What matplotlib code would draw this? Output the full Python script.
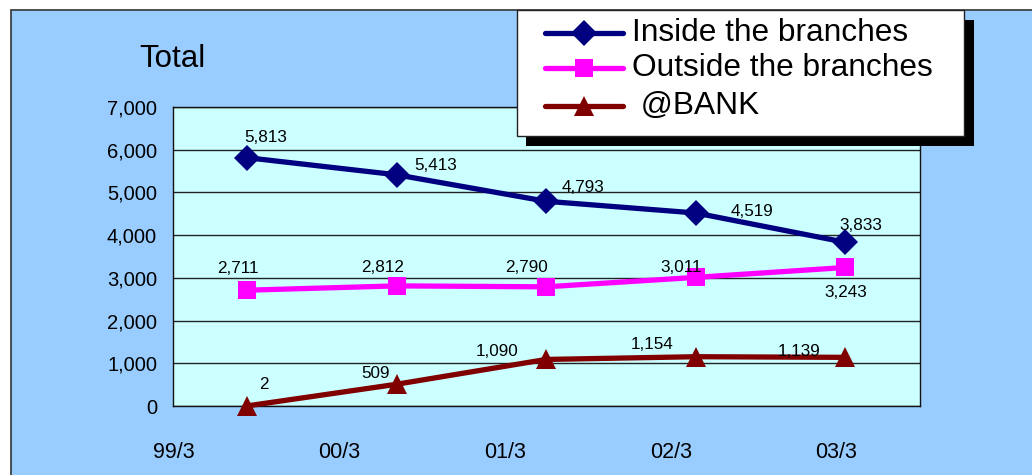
import matplotlib
matplotlib.use("Agg")
import matplotlib.pyplot as plt
from matplotlib.patches import Rectangle
from matplotlib.lines import Line2D
from matplotlib.ticker import FuncFormatter, MultipleLocator

plt.rcParams['font.family'] = ['Liberation Sans', 'DejaVu Sans']

# ---- data ----
periods = ["99/3", "00/3", "01/3", "02/3", "03/3"]
series_names = ["Inside the branches", "Outside the branches", " @BANK"]
inside = [5813, 5413, 4793, 4519, 3833]
outside = [2711, 2812, 2790, 3011, 3243]
bank = [2, 509, 1090, 1154, 1139]

# label offsets (pixels, right / up) for each value label
inside_off = [(19, 20), (39, 9), (37, 14), (56, 1), (16, 17)]
outside_off = [(-9, 22), (-14, 18), (-20, 19), (-15, 10), (1, -25)]
bank_off = [(17, 21), (-21, 11), (-49, 8), (-44, 12), (-46, 6)]

W, H = 1032, 475
fig = plt.figure(figsize=(W / 100, H / 100), dpi=100)
fig.patch.set_facecolor('white')


def fx(x):
    return x / W


def fy(y):
    return 1 - y / H


# outer blue panel
fig.add_artist(Rectangle((fx(11), fy(480)), fx(1040 - 11), (480 - 10) / H,
                         transform=fig.transFigure, facecolor='#99CCFF',
                         edgecolor='#333333', linewidth=1.2, zorder=0))

ax = fig.add_axes([fx(173), fy(406), fx(920 - 173), (406 - 107) / H])
ax.set_facecolor('#CCFFFF')
x = list(range(len(periods)))

styles = [
    (inside, '#000080', 'D', 13, inside_off),
    (outside, '#FF00FF', 's', 13, outside_off),
    (bank, '#800000', '^', 14.5, bank_off),
]
for vals, col, mk, ms, offs in styles:
    ax.plot(x, vals, color=col, lw=3.8, marker=mk, markersize=ms,
            markeredgewidth=0, zorder=3, solid_capstyle='round',
            clip_on=False)
    for xi, v, (dx, dy) in zip(x, vals, offs):
        ax.annotate(f"{v:,}", (xi, v), xytext=(dx, dy),
                    textcoords='offset pixels', ha='center', va='center',
                    fontsize=12.3, color='black', zorder=4)

ax.set_xlim(-0.495, 4.5)
ax.set_ylim(0, 7000)
ax.yaxis.set_major_locator(MultipleLocator(1000))
ax.yaxis.set_major_formatter(FuncFormatter(lambda v, p: f"{v:,.0f}"))
ax.tick_params(axis='y', length=0, pad=11.5, labelsize=14.5)
ax.set_xticks([])
ax.grid(axis='y', color='#222222', linewidth=1.0)
ax.set_axisbelow(True)
for s in ax.spines.values():
    s.set_color('#111111')
    s.set_linewidth(1.0)

# category labels on their own scale
ax2 = ax.twiny()
ax2.set_xlim(-0.006, 4.506)
ax2.xaxis.set_ticks_position('bottom')
ax2.xaxis.set_label_position('bottom')
ax2.set_xticks(range(len(periods)))
ax2.set_xticklabels(periods)
ax2.tick_params(axis='x', length=0, pad=26, labelsize=15.5)
for s in ax2.spines.values():
    s.set_visible(False)

fig.text(fx(139), fy(59), "Total", fontsize=22.5, ha='left', va='center')

# legend box with solid shadow
fig.add_artist(Rectangle((fx(526), fy(146)), fx(974 - 526), (146 - 20) / H,
                         transform=fig.transFigure, facecolor='black',
                         edgecolor='none', zorder=5))
fig.add_artist(Rectangle((fx(517), fy(136)), fx(964 - 517), (136 - 10) / H,
                         transform=fig.transFigure, facecolor='white',
                         edgecolor='#222222', linewidth=1.0, zorder=6))
rows = [33, 68, 106]
for (vals, col, mk, ms, _), name, ry in zip(styles, series_names, rows):
    fig.add_artist(Line2D([fx(545), fx(623)], [fy(ry), fy(ry)],
                          transform=fig.transFigure, color=col, lw=3.8,
                          solid_capstyle='round', zorder=7))
    fig.add_artist(Line2D([fx(584)], [fy(ry)], transform=fig.transFigure,
                          color=col, marker=mk, markersize=ms,
                          markeredgewidth=0, zorder=8))
    fig.text(fx(632), fy(ry), name, fontsize=22.8, ha='left', va='center',
             zorder=9)

fig.savefig("out.png", dpi=100)
